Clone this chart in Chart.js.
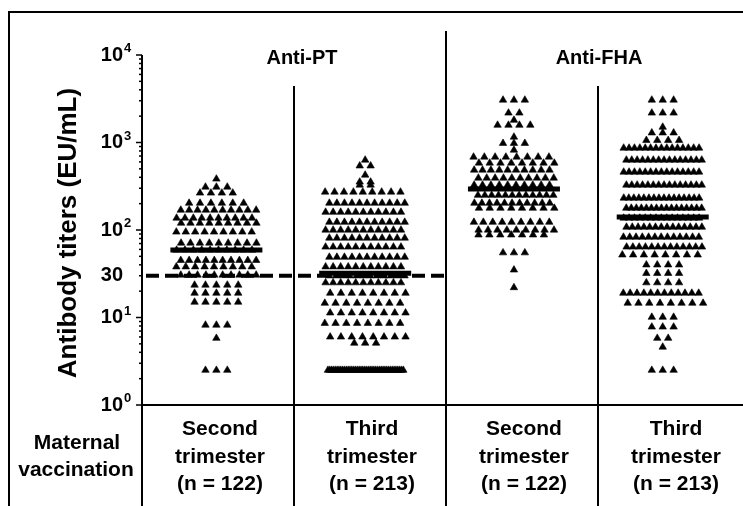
<!DOCTYPE html>
<html>
<head>
<meta charset="utf-8">
<script src="https://cdn.jsdelivr.net/npm/chart.js@4/dist/chart.umd.min.js"></script>
<style>
  html, body { margin: 0; padding: 0; background: #fff; }
</style>
</head>
<body>
<canvas id="chart" width="743" height="506"></canvas>
<script>
// categories
const antigens = ['Anti-PT', 'Anti-FHA'];
const trimesters = ['Second', 'Third', 'Second', 'Third'];
const groupN = [122, 213, 122, 213];

// values, row by row (titer level, number of triangles in the row)
const ptSecondLevels = [383, 310, 265, 203, 169, 137, 120, 95, 71, 59, 45, 38, 30.6, 23.5, 19, 15, 8.2, 5.8, 2.5];
const ptSecondCounts = [1, 3, 4, 6, 10, 10, 9, 9, 9, 10, 10, 9, 10, 5, 5, 5, 3, 1, 3];

const ptThirdLevels = [631, 541, 425, 354, 327, 272, 203, 160, 123, 100, 81, 64, 49, 38, 30, 25, 19, 14.6, 11.3, 8.6, 6, 5.1, 2.5];
const ptThirdCounts = [1, 2, 1, 2, 2, 9, 11, 11, 11, 11, 11, 11, 11, 11, 12, 11, 8, 8, 8, 8, 8, 3, 42];

const fhaSecondLevels = [3060, 2175, 1800, 1580, 1155, 980, 820, 683, 583, 485, 393, 327, 250, 203, 178, 123, 100, 88, 55, 35, 22];
const fhaSecondCounts = [3, 2, 1, 4, 1, 3, 1, 8, 8, 10, 10, 10, 12, 11, 8, 9, 9, 7, 3, 1, 1];

const fhaThirdLevels = [3060, 2175, 1500, 1290, 1060, 865, 631, 460, 327, 232, 178, 137, 108, 83, 64, 52, 40, 32, 25, 19, 14.6, 10.1, 7.8, 5.8, 4.6, 2.5];
const fhaThirdCounts = [3, 3, 1, 3, 4, 15, 15, 15, 15, 16, 16, 15, 14, 13, 13, 8, 4, 4, 4, 12, 8, 3, 3, 2, 1, 3];

const medians = [59, 32, 294, 141];
const cutoff = 30;

// tick labels
const yDecades = [1, 10, 100, 1000, 10000];
const yExponents = ['0', '1', '2', '3', '4'];

const FONT = '"Liberation Sans", Arial, sans-serif';
const CELL = 152;     // table cell width in px
const UNIT = 150;     // px per x unit

// spread each row sideways around the group centre (alternate rows slightly staggered)
function swarm(levels, counts, center) {
  const pts = [];
  levels.forEach((v, r) => {
    const n = counts[r];
    const stepPx = n > 1 ? Math.min(11, 76 / (n - 1)) : 0;
    const shift = n > 6 ? (r % 2 ? -0.25 : 0.25) * stepPx : 0;
    for (let i = 0; i < n; i++) {
      pts.push({ x: center + ((i - (n - 1) / 2) * stepPx + shift) / UNIT, y: v });
    }
  });
  return pts;
}

const rows = [
  [ptSecondLevels, ptSecondCounts],
  [ptThirdLevels, ptThirdCounts],
  [fhaSecondLevels, fhaSecondCounts],
  [fhaThirdLevels, fhaThirdCounts]
];

const datasets = rows.map((r, i) => ({
  label: antigens[i < 2 ? 0 : 1] + ' ' + trimesters[i],
  data: swarm(r[0], r[1], i + 0.5),
  pointStyle: 'triangle',
  pointRadius: 4.3,
  backgroundColor: '#000',
  borderColor: '#000',
  borderWidth: 0.6
}));

const figurePlugin = {
  id: 'figure',
  beforeDatasetsDraw(chart) {
    const { ctx, chartArea: a } = chart;
    const y = chart.scales.y.getPixelForValue(cutoff);
    ctx.save();
    ctx.strokeStyle = '#000';
    ctx.lineWidth = 4;
    ctx.setLineDash([13, 6]);
    ctx.beginPath();
    ctx.moveTo(a.left + 4, y);
    ctx.lineTo(a.left + 2 * CELL, y);
    ctx.stroke();
    ctx.restore();
  },
  afterDatasetsDraw(chart) {
    const { ctx } = chart;
    const xs = chart.scales.x, ys = chart.scales.y;
    ctx.save();
    ctx.strokeStyle = '#000';
    ctx.lineWidth = 5;
    medians.forEach((m, i) => {
      const cx = xs.getPixelForValue(i + 0.5);
      const y = ys.getPixelForValue(m);
      ctx.beginPath();
      ctx.moveTo(cx - 46, y);
      ctx.lineTo(cx + 46, y);
      ctx.stroke();
    });
    ctx.restore();
  },
  afterDraw(chart) {
    const { ctx, chartArea: a, width, height } = chart;
    const ys = chart.scales.y;
    ctx.save();
    ctx.strokeStyle = '#000';
    ctx.fillStyle = '#000';

    // outer frame (top and left)
    ctx.lineWidth = 2;
    ctx.beginPath();
    ctx.moveTo(9, height);
    ctx.lineTo(9, 12);
    ctx.lineTo(width, 12);
    ctx.stroke();

    // y axis, continuing down as table line
    ctx.beginPath();
    ctx.moveTo(a.left, a.top);
    ctx.lineTo(a.left, height);
    ctx.stroke();

    // bottom axis / table line
    ctx.beginPath();
    ctx.moveTo(a.left, a.bottom);
    ctx.lineTo(width, a.bottom);
    ctx.stroke();

    // separators
    for (let k = 1; k <= 3; k++) {
      const x = a.left + k * CELL;
      ctx.beginPath();
      ctx.moveTo(x, k === 2 ? 31 : 86);
      ctx.lineTo(x, height);
      ctx.stroke();
    }

    // log ticks
    ctx.lineWidth = 1.5;
    for (let d = 0; d < 4; d++) {
      for (let m = 1; m <= 9; m++) {
        const y = ys.getPixelForValue(m * Math.pow(10, d));
        ctx.beginPath();
        ctx.moveTo(a.left - (m === 1 ? 6 : 3), y);
        ctx.lineTo(a.left, y);
        ctx.stroke();
      }
    }
    const yTop = ys.getPixelForValue(10000);
    ctx.beginPath();
    ctx.moveTo(a.left - 6, yTop);
    ctx.lineTo(a.left, yTop);
    ctx.stroke();

    // tick labels
    yDecades.forEach((v, i) => {
      const y = ys.getPixelForValue(v);
      ctx.font = 'bold 20px ' + FONT;
      ctx.textAlign = 'right';
      ctx.textBaseline = 'middle';
      ctx.fillText('10', 123, y);
      ctx.font = 'bold 13px ' + FONT;
      ctx.textAlign = 'left';
      ctx.textBaseline = 'alphabetic';
      ctx.fillText(yExponents[i], 124, y - 3);
    });
    ctx.font = 'bold 20px ' + FONT;
    ctx.textAlign = 'right';
    ctx.textBaseline = 'middle';
    ctx.fillText(String(cutoff), 123, ys.getPixelForValue(cutoff));

    // y title
    ctx.save();
    ctx.translate(69, 233);
    ctx.rotate(-Math.PI / 2);
    ctx.font = 'bold 26px ' + FONT;
    ctx.textAlign = 'center';
    ctx.textBaseline = 'middle';
    ctx.fillText('Antibody titers (EU/mL)', 0, 0);
    ctx.restore();

    // antigen headers
    ctx.font = 'bold 20px ' + FONT;
    ctx.textAlign = 'center';
    ctx.textBaseline = 'alphabetic';
    ctx.fillText(antigens[0], a.left + CELL + 8, 64);
    ctx.fillText(antigens[1], a.left + 3 * CELL + 1, 64);

    // table
    ctx.font = 'bold 21px ' + FONT;
    ctx.textBaseline = 'middle';
    ctx.fillText('Maternal', 77, 443);
    ctx.fillText('vaccination', 76, 470);
    trimesters.forEach((t, k) => {
      const cx = a.left + (k + 0.5) * CELL + 2;
      ctx.fillText(t, cx, 429);
      ctx.fillText('trimester', cx, 457);
      ctx.fillText('(n = ' + groupN[k] + ')', cx, 484);
    });
    ctx.restore();
  }
};

const chart = new Chart(document.getElementById('chart'), {
  type: 'scatter',
  data: { datasets },
  options: {
    responsive: false,
    animation: false,
    layout: { padding: { left: 142, top: 55, right: 0, bottom: 101 } },
    scales: {
      x: { type: 'linear', display: false, min: 0, max: 601 / UNIT },
      y: { type: 'logarithmic', display: false, min: 1, max: 10000 }
    },
    plugins: {
      legend: { display: false },
      tooltip: { enabled: false }
    }
  },
  plugins: [figurePlugin]
});
</script>
</body>
</html>
